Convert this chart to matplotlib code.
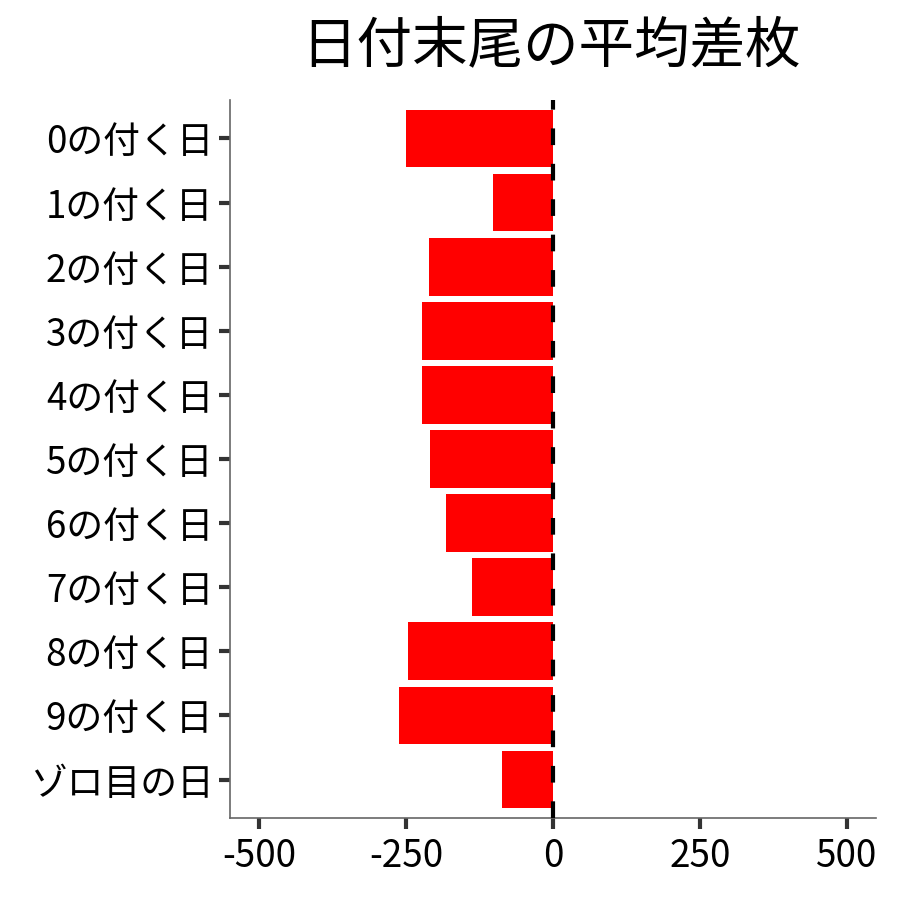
import matplotlib
matplotlib.use("Agg")
import matplotlib.pyplot as plt

plt.rcParams['font.family'] = ['Noto Sans CJK JP', 'DejaVu Sans']

# data
categories = ["0の付く日", "1の付く日", "2の付く日", "3の付く日", "4の付く日",
              "5の付く日", "6の付く日", "7の付く日", "8の付く日", "9の付く日",
              "ゾロ目の日"]
diff_avg = [-250, -102, -211, -223, -223, -209, -182, -138, -247, -262, -87]
xticks = [-500, -250, 0, 250, 500]
title = "日付末尾の平均差枚"

fig = plt.figure(figsize=(9, 9), dpi=100)
ax = fig.add_axes([230/900, 1 - 818/900, (876-230)/900, (818-100)/900])

ypos = list(range(len(categories)))[::-1]
ax.barh(ypos, diff_avg, height=0.9, color="#FF0000", zorder=2)
ax.axvline(0, color="black", linestyle=(0, (4, 4.5)), linewidth=3, zorder=3)

ax.set_xlim(-550, 550)
ax.set_ylim(-0.6, len(categories) - 0.4)
ax.set_xticks(xticks)
ax.set_xticklabels([str(v) for v in xticks])
ax.set_yticks(ypos)
ax.set_yticklabels(categories)

for s in ["top", "right"]:
    ax.spines[s].set_visible(False)
for s in ["left", "bottom"]:
    ax.spines[s].set_color("#666666")
    ax.spines[s].set_linewidth(1.2)
ax.tick_params(axis="both", labelsize=26.5, colors="#333333", width=3,
               length=8, pad=4, labelcolor="black")
ax.tick_params(axis="x", pad=6)

fig.text(551/900, 1 - 46/900, title, ha="center", va="center",
         fontsize=40)

fig.savefig("out.png", dpi=100)
